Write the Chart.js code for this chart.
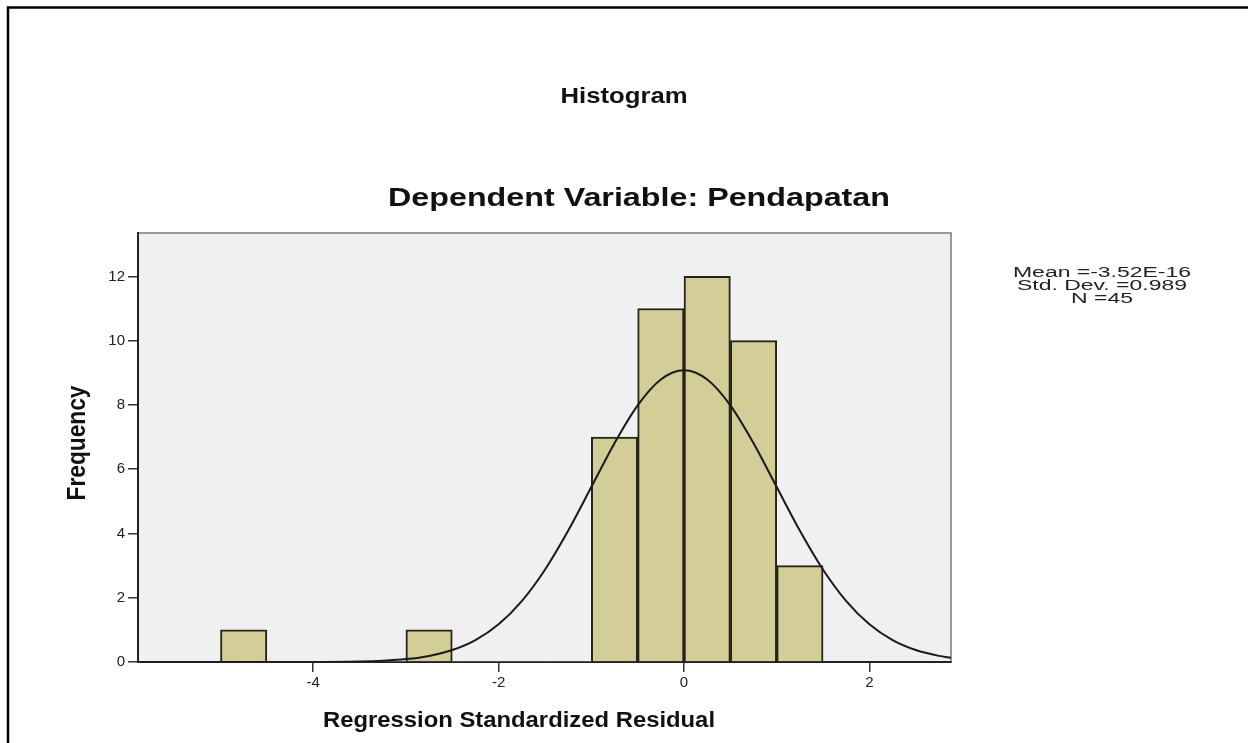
<!DOCTYPE html>
<html>
<head>
<meta charset="utf-8">
<script src="https://cdn.jsdelivr.net/npm/chart.js@4.4.1/dist/chart.umd.min.js"></script>
<style>
  html, body { margin: 0; padding: 0; background: #ffffff; }
  #wrap { width: 1248px; height: 743px; position: relative; }
</style>
</head>
<body>
<div id="wrap"><canvas id="c" width="1248" height="743"></canvas></div>
<script>
// ---- data ----
const binStarts = [-5, -4.5, -4, -3.5, -3, -2.5, -2, -1.5, -1, -0.5, 0, 0.5, 1];
const binWidth = 0.5;
const counts = [1, 0, 0, 0, 1, 0, 0, 0, 7, 11, 12, 10, 3];

// normal curve overlay
const curveX = [-5.89, -4, -3.5, -3.25, -3, -2.75, -2.5, -2.25, -2, -1.75, -1.5, -1.25, -1, -0.75, -0.5, -0.25, 0,
                0.25, 0.5, 0.75, 1, 1.25, 1.5, 1.75, 2, 2.25, 2.5, 2.75, 2.88];
const curveY = [0, 0.003, 0.017, 0.041, 0.091, 0.19, 0.372, 0.682, 1.175, 1.897, 2.873, 4.083, 5.444, 6.808, 7.987, 8.791, 9.076,
                8.791, 7.987, 6.808, 5.444, 4.083, 2.873, 1.897, 1.175, 0.682, 0.372, 0.19, 0.131];

const xTicks = [-4, -2, 0, 2];
const yTicks = [0, 2, 4, 6, 8, 10, 12];
const xRange = [-5.89, 2.88];
const yRange = [0, 13.35];

const titleText = "Histogram";
const subtitleText = "Dependent Variable: Pendapatan";
const xTitle = "Regression Standardized Residual";
const yTitle = "Frequency";
const statsLines = ["Mean =-3.52E-16", "Std. Dev. =0.989", "N =45"];

// ---- build ----
const barData = binStarts.map((s, i) => ({ x: s + binWidth / 2, y: counts[i] }));
const lineData = curveX.map((x, i) => ({ x: x, y: curveY[i] }));

function stretchedText(ctx, text, cx, baseline, font, targetWidth, color) {
  ctx.save();
  ctx.font = font;
  ctx.fillStyle = color;
  ctx.textAlign = 'center';
  ctx.textBaseline = 'alphabetic';
  const w = ctx.measureText(text).width;
  const sx = targetWidth ? targetWidth / w : 1;
  ctx.translate(cx, baseline);
  ctx.scale(sx, 1);
  ctx.fillText(text, 0, 0);
  ctx.restore();
}

const decor = {
  id: 'decor',
  beforeDraw(chart) {
    const ctx = chart.ctx;
    const a = chart.chartArea;
    ctx.save();
    ctx.fillStyle = '#ffffff';
    ctx.fillRect(0, 0, chart.width, chart.height);
    // outer frame
    ctx.strokeStyle = '#000000';
    ctx.lineWidth = 2.5;
    ctx.beginPath();
    ctx.moveTo(8, 743);
    ctx.lineTo(8, 7.5);
    ctx.lineTo(1248, 7.5);
    ctx.stroke();
    // plot background
    ctx.fillStyle = '#f0f0f0';
    ctx.fillRect(a.left, a.top, a.right - a.left, a.bottom - a.top);
    ctx.strokeStyle = '#7a7a7a';
    ctx.lineWidth = 1.5;
    ctx.strokeRect(a.left, a.top, a.right - a.left, a.bottom - a.top);
    ctx.restore();
  },
  afterDraw(chart) {
    const ctx = chart.ctx;
    stretchedText(ctx, titleText, 624, 103, 'bold 22px "Liberation Sans", Arial, sans-serif', 127, '#111');
    stretchedText(ctx, subtitleText, 639, 206, 'bold 25px "Liberation Sans", Arial, sans-serif', 502, '#111');
    stretchedText(ctx, xTitle, 519, 727, 'bold 22px "Liberation Sans", Arial, sans-serif', 392, '#111');
    // y title rotated
    ctx.save();
    ctx.translate(85, 443);
    ctx.rotate(-Math.PI / 2);
    ctx.font = 'bold 26px "Liberation Sans Narrow", "Liberation Sans", Arial, sans-serif';
    const w = ctx.measureText(yTitle).width;
    ctx.scale(115 / w, 1);
    ctx.fillStyle = '#111';
    ctx.textAlign = 'center';
    ctx.textBaseline = 'alphabetic';
    ctx.fillText(yTitle, 0, 0);
    ctx.restore();
    // stats
    ctx.save();
    ctx.font = '14px "Liberation Sans", Arial, sans-serif';
    const sw = ctx.measureText(statsLines[0]).width;
    ctx.restore();
    const sx = 178 / sw;
    statsLines.forEach((t, i) => {
      ctx.save();
      ctx.font = '14px "Liberation Sans", Arial, sans-serif';
      ctx.fillStyle = '#222';
      ctx.textAlign = 'center';
      ctx.translate(1102, 277 + i * 13);
      ctx.scale(sx, 1);
      ctx.fillText(t, 0, 0);
      ctx.restore();
    });
  }
};

new Chart(document.getElementById('c'), {
  type: 'bar',
  data: {
    datasets: [
      {
        type: 'line',
        data: lineData,
        borderColor: '#1a1a1a',
        borderWidth: 2,
        pointRadius: 0,
        fill: false,
        cubicInterpolationMode: 'monotone',
        order: 0
      },
      {
        type: 'bar',
        data: barData,
        backgroundColor: '#d3ce97',
        borderColor: '#26241a',
        borderWidth: ctx => (ctx.raw && ctx.raw.y > 0 ? 2 : 0),
        barPercentage: 1,
        categoryPercentage: 1,
        grouped: false,
        order: 1
      }
    ]
  },
  options: {
    responsive: false,
    animation: false,
    events: [],
    layout: { padding: { left: 86, right: 297, top: 233, bottom: 41 } },
    plugins: { legend: { display: false }, tooltip: { enabled: false }, title: { display: false } },
    scales: {
      x: {
        type: 'linear',
        min: xRange[0],
        max: xRange[1],
        offset: false,
        afterFit(s) { s.height = 40; },
        afterBuildTicks(s) { s.ticks = xTicks.map(v => ({ value: v })); },
        ticks: { includeBounds: false, color: '#222', font: { family: '"Liberation Sans", Arial, sans-serif', size: 15 }, padding: 2, maxRotation: 0 },
        grid: { display: true, drawOnChartArea: false, drawTicks: true, tickLength: 10, color: '#333', lineWidth: 1.5, offset: false },
        border: { display: true, color: '#222', width: 2 }
      },
      y: {
        type: 'linear',
        min: yRange[0],
        max: yRange[1],
        afterFit(s) { s.width = 52; },
        afterBuildTicks(s) { s.ticks = yTicks.map(v => ({ value: v })); },
        ticks: { includeBounds: false, color: '#222', font: { family: '"Liberation Sans", Arial, sans-serif', size: 15 }, padding: 3 },
        grid: { display: true, drawOnChartArea: false, drawTicks: true, tickLength: 10, color: '#333', lineWidth: 1.5 },
        border: { display: true, color: '#222', width: 2 }
      }
    }
  },
  plugins: [decor]
});
</script>
</body>
</html>
